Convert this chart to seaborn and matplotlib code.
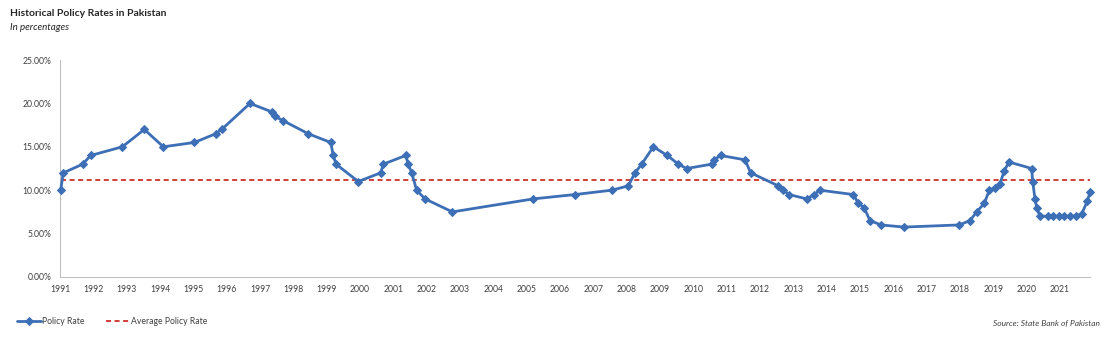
import matplotlib
matplotlib.use("Agg")
import matplotlib.pyplot as plt
import seaborn as sns
import pandas as pd
from matplotlib.ticker import FuncFormatter

# ---- data ----
years = [1991.02, 1991.1, 1991.68, 1991.92, 1992.87, 1993.53, 1994.1, 1995.03, 1995.67, 1995.85,
         1996.7, 1997.37, 1997.45, 1997.7, 1998.45, 1999.12, 1999.2, 1999.28, 1999.95, 2000.62,
         2000.7, 2001.37, 2001.45, 2001.55, 2001.7, 2001.95, 2002.77, 2005.2, 2006.45, 2007.55,
         2008.05, 2008.25, 2008.45, 2008.8, 2009.22, 2009.55, 2009.8, 2010.55, 2010.62, 2010.82,
         2011.55, 2011.72, 2012.55, 2012.7, 2012.87, 2013.4, 2013.62, 2013.8, 2014.8, 2014.95,
         2015.12, 2015.3, 2015.63, 2016.32, 2017.98, 2018.3, 2018.5, 2018.73, 2018.88, 2019.05,
         2019.2, 2019.33, 2019.47, 2020.15, 2020.18, 2020.25, 2020.3, 2020.4, 2020.65, 2020.8,
         2020.97, 2021.13, 2021.3, 2021.47, 2021.65, 2021.82, 2021.9]
policy_rate = [10, 12, 13, 14, 15, 17, 15, 15.5, 16.5, 17,
               20, 19, 18.5, 18, 16.5, 15.5, 14, 13, 11, 12,
               13, 14, 13, 12, 10, 9, 7.5, 9, 9.5, 10,
               10.5, 12, 13, 15, 14, 13, 12.5, 13, 13.5, 14,
               13.5, 12, 10.5, 10, 9.5, 9, 9.5, 10, 9.5, 8.5,
               8, 6.5, 6, 5.75, 6, 6.5, 7.5, 8.5, 10, 10.25,
               10.75, 12.25, 13.25, 12.5, 11, 9, 8, 7, 7, 7,
               7, 7, 7, 7, 7.25, 8.75, 9.75]
average_rate = 11.2
year_ticks = list(range(1991, 2022))
y_ticks = [0, 5, 10, 15, 20, 25]

title = "Historical Policy Rates in Pakistan"
subtitle = "In percentages"
source = "Source: State Bank of Pakistan"

# ---- plotting ----
sns.set_style("white")
plt.rcParams['font.family'] = ['Lato', 'DejaVu Sans']

df = pd.DataFrame({"year": years, "rate": policy_rate})
df_avg = pd.DataFrame({"year": years, "rate": [average_rate] * len(years)})

fig = plt.figure(figsize=(11.14, 3.38), dpi=100)
ax = fig.add_axes([60 / 1114, 1 - 277 / 338, (1090 - 60) / 1114, (277 - 60) / 338])

blue = "#3d6fb6"
red = "#d0403a"

sns.lineplot(data=df, x="year", y="rate", ax=ax, color=blue, linewidth=2.0,
             marker="D", markersize=4.2, markeredgecolor=blue, sort=False,
             label="Policy Rate", clip_on=False, zorder=3)
sns.lineplot(data=df_avg, x="year", y="rate", ax=ax, color=red, linewidth=1.4,
             linestyle=(0, (2.6, 1.8)), sort=False, label="Average Policy Rate", zorder=2)

ax.set_xlim(1991, 2021.9)
ax.set_ylim(0, 25)
ax.set_xticks(year_ticks)
ax.set_xticklabels([str(y) for y in year_ticks])
ax.set_yticks(y_ticks)
ax.yaxis.set_major_formatter(FuncFormatter(lambda v, p: f"{v:.2f}%"))
ax.set_xlabel("")
ax.set_ylabel("")
ax.tick_params(axis="both", labelsize=6.2, colors="#404040", length=3, width=0.6,
               direction="out", pad=3)
ax.tick_params(axis="x", color="#c8c8c8")
ax.tick_params(axis="y", length=0, pad=6)
for s in ["top", "right"]:
    ax.spines[s].set_visible(False)
for s in ["left", "bottom"]:
    ax.spines[s].set_color("#bfbfbf")
    ax.spines[s].set_linewidth(0.8)
ax.grid(False)

handles, labels = ax.get_legend_handles_labels()
ax.get_legend().remove()
fig.legend(handles, labels, loc="center left", bbox_to_anchor=(0.008, 1 - 322 / 338),
           ncol=2, frameon=False, fontsize=6.2, handlelength=2.8, handletextpad=0.2,
           columnspacing=2.4, labelcolor="#404040")

fig.text(10 / 1114, 1 - 13 / 338, title, fontsize=7.5, fontweight="bold",
         color="#262626", va="center", ha="left")
fig.text(10 / 1114, 1 - 27 / 338, subtitle, fontsize=7, style="italic",
         color="#262626", va="center", ha="left")
fig.text(1100 / 1114, 1 - 323 / 338, source, fontsize=6, style="italic",
         color="#404040", va="center", ha="right")

fig.savefig("out.png", dpi=100)
